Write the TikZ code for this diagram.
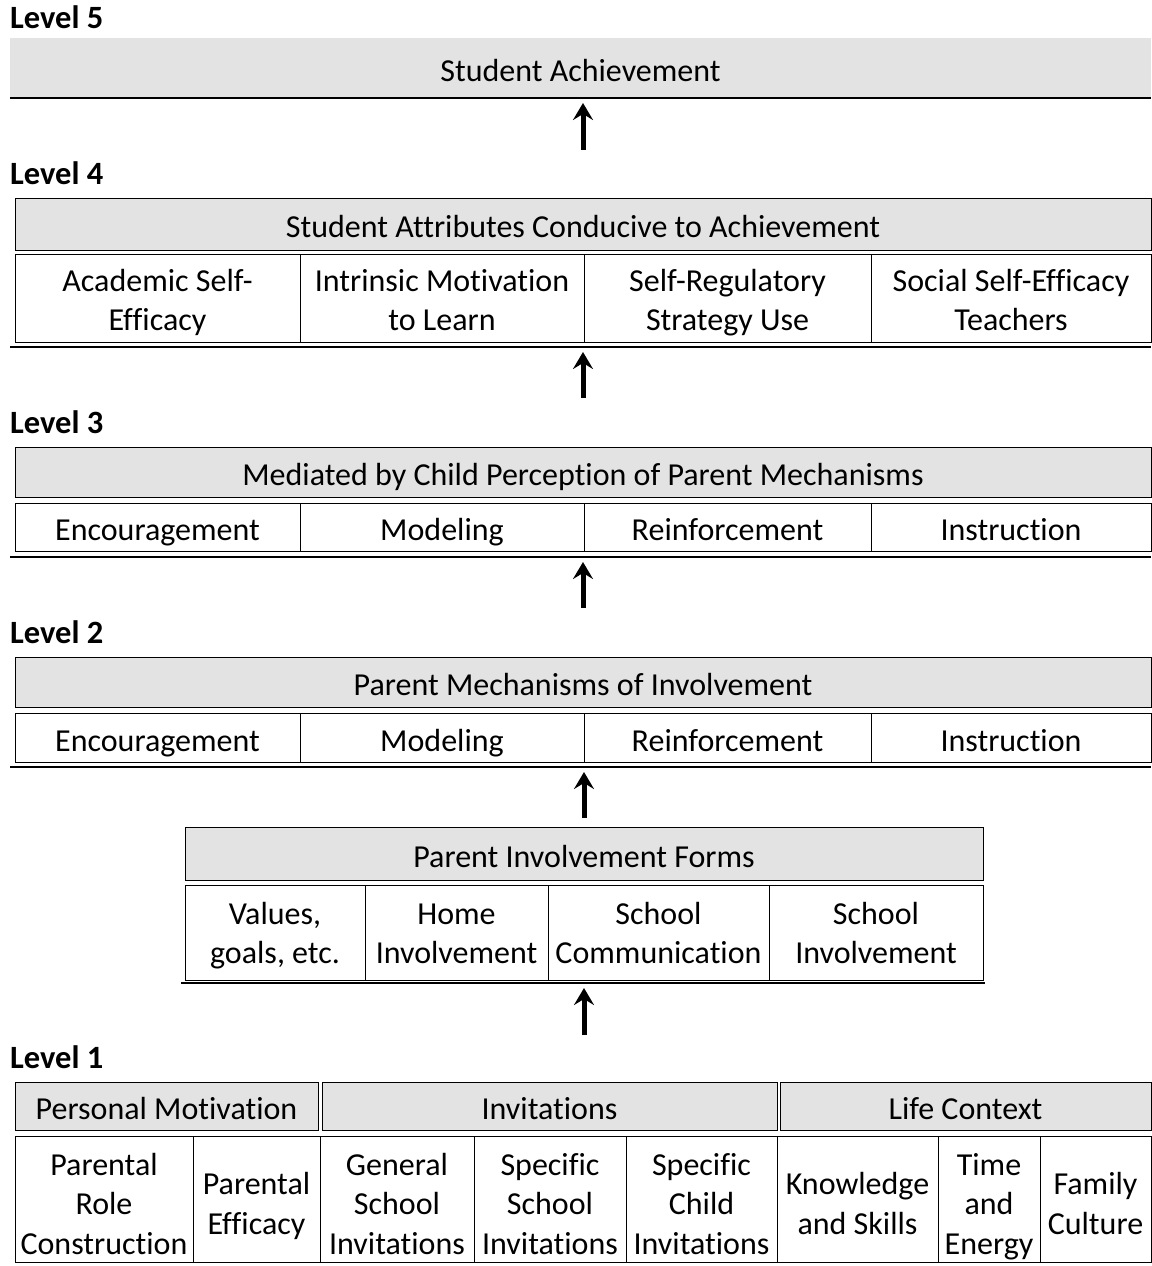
\documentclass[tikz,border=0pt]{standalone}
\usepackage{fontspec}
\setmainfont{Carlito}[Ligatures=CommonOff]
\usetikzlibrary{positioning,arrows.meta}
% invisible prop that keeps the lines of a box at the same place
\newcommand{\cellprop}{\rule[-7pt]{0pt}{41pt}}

\begin{document}
\begin{tikzpicture}[x=1pt, y=1pt,
			% shaded bar that carries the title of a level
			headbar/.style={rectangle, draw=black, line width=1pt, fill=black!11, inner sep=0pt, outer sep=0pt,
				font=\fontsize{32}{39.5}\selectfont, execute at begin node=\cellprop},
			% white box below a bar
			cellbox/.style={rectangle, draw=black, line width=1pt, align=center, inner sep=0pt, outer sep=0pt,
				font=\fontsize{32}{39.5}\selectfont, execute at begin node=\cellprop, execute at end node=\cellprop},
			% box with several lines: a taller prop pushes the text down
			stackbox/.style={execute at begin node=\rule[-7pt]{0pt}{#1}},
			% caption "Level n"
			levelname/.style={anchor=base west, inner sep=0pt, font=\fontsize{32.5}{36}\selectfont\bfseries},
			% heavy line closing a level
			heavyrule/.style={line width=2.5pt},
			% thick arrow between the levels
			uparrow/.style={line width=5pt, -{Stealth[length=17pt, width=20pt, inset=6pt]}}
		]
		\useasboundingbox (0,0) rectangle (1151,-1266);

		%Level 5
		\node[levelname]                      (lvlfive)    at (10,-28)                       {Level 5};
		\node[headbar, draw=none, minimum width=1141pt, minimum height=60pt, anchor=north west]
		                                      (achieve)    at (10,-38)                       {Student Achievement};
		\draw[heavyrule] (achieve.south west) -- (achieve.south east);

		%Level 4
		\node[levelname]                      (lvlfour)    at (10,-184)                      {Level 4};
		\node[headbar, minimum width=1136pt, minimum height=52pt, anchor=north west]
		                                      (attrib)     at (15,-198)                      {Student Attributes Conducive to Achievement};
		\node[cellbox, stackbox=79pt, minimum width=285pt, minimum height=88pt, anchor=north west]
		                                      (academic)   at (15,-254)                      {Academic Self-\\Efficacy};
		\node[cellbox, stackbox=79pt, minimum width=284pt, minimum height=88pt] (intrinsic)  [right=0pt of academic]   {Intrinsic Motivation\\to Learn};
		\node[cellbox, stackbox=79pt, minimum width=287pt, minimum height=88pt] (selfreg)    [right=0pt of intrinsic]  {Self-Regulatory\\Strategy Use};
		\node[cellbox, stackbox=79pt, minimum width=280pt, minimum height=88pt] (social)     [right=0pt of selfreg]    {Social Self-Efficacy\\Teachers};
		\draw[heavyrule] ([shift={(-5pt,-5pt)}]academic.south west) -- ([yshift=-5pt]social.south east);

		%Level 3
		\node[levelname]                      (lvlthree)   at (10,-433)                      {Level 3};
		\node[headbar, minimum width=1136pt, minimum height=50pt, anchor=north west]
		                                      (mediated)   at (15,-447)                      {Mediated by Child Perception of Parent Mechanisms};
		\node[cellbox, minimum width=285pt, minimum height=48pt, anchor=north west]
		                                      (encourthree) at (15,-503)                     {Encouragement};
		\node[cellbox, minimum width=284pt, minimum height=48pt] (modelthree) [right=0pt of encourthree] {Modeling};
		\node[cellbox, minimum width=287pt, minimum height=48pt] (reinfthree) [right=0pt of modelthree]  {Reinforcement};
		\node[cellbox, minimum width=280pt, minimum height=48pt] (instrthree) [right=0pt of reinfthree]  {Instruction};
		\draw[heavyrule] ([shift={(-5pt,-6pt)}]encourthree.south west) -- ([yshift=-6pt]instrthree.south east);

		%Level 2
		\node[levelname]                      (lvltwo)     at (10,-643)                      {Level 2};
		\node[headbar, minimum width=1136pt, minimum height=50pt, anchor=north west]
		                                      (mechan)     at (15,-657)                      {Parent Mechanisms of Involvement};
		\node[cellbox, minimum width=285pt, minimum height=49pt, anchor=north west]
		                                      (encourtwo)  at (15,-713)                      {Encouragement};
		\node[cellbox, minimum width=284pt, minimum height=49pt] (modeltwo)   [right=0pt of encourtwo]   {Modeling};
		\node[cellbox, minimum width=287pt, minimum height=49pt] (reinftwo)   [right=0pt of modeltwo]    {Reinforcement};
		\node[cellbox, minimum width=280pt, minimum height=49pt] (instrtwo)   [right=0pt of reinftwo]    {Instruction};
		\draw[heavyrule] ([shift={(-5pt,-5pt)}]encourtwo.south west) -- ([yshift=-5pt]instrtwo.south east);

		%Forms of involvement
		\node[headbar, minimum width=798pt, minimum height=53pt, anchor=north west]
		                                      (forms)      at (185,-827)                     {Parent Involvement Forms};
		\node[cellbox, stackbox=76pt, minimum width=180pt, minimum height=95pt, anchor=north west]
		                                      (values)     at (185,-885)                     {Values,\\goals, etc.};
		\node[cellbox, stackbox=76pt, minimum width=183pt, minimum height=95pt] (home)       [right=0pt of values]      {Home\\Involvement};
		\node[cellbox, stackbox=76pt, minimum width=221pt, minimum height=95pt] (schoolcomm) [right=0pt of home]        {School\\Communication};
		\node[cellbox, stackbox=76pt, minimum width=214pt, minimum height=95pt] (schoolinv)  [right=0pt of schoolcomm]  {School\\Involvement};
		\draw[heavyrule] ([shift={(-4pt,-3pt)}]values.south west) -- ([shift={(2pt,-3pt)}]schoolinv.south east);

		%Level 1
		\node[levelname]                      (lvlone)     at (10,-1068)                     {Level 1};
		\node[headbar, minimum width=303pt, minimum height=48pt, anchor=north west]
		                                      (personal)   at (15,-1082)                     {Personal Motivation};
		\node[headbar, minimum width=455pt, minimum height=48pt, anchor=north west]
		                                      (invit)      at (322,-1082)                    {Invitations};
		\node[headbar, minimum width=371pt, minimum height=48pt, anchor=north west]
		                                      (life)       at (780,-1082)                    {Life Context};
		\node[cellbox, stackbox=124pt, minimum width=178pt, minimum height=126pt, anchor=north west]
		                                      (rolecon)    at (15,-1136)                     {Parental\\Role\\Construction};
		\node[cellbox, stackbox=84pt,  minimum width=127pt, minimum height=126pt] (efficacy)   [right=0pt of rolecon]     {Parental\\Efficacy};
		\node[cellbox, stackbox=124pt, minimum width=154pt, minimum height=126pt] (general)    [right=0pt of efficacy]    {General\\School\\Invitations};
		\node[cellbox, stackbox=124pt, minimum width=152pt, minimum height=126pt] (specschool) [right=0pt of general]     {Specific\\School\\Invitations};
		\node[cellbox, stackbox=124pt, minimum width=151pt, minimum height=126pt] (specchild)  [right=0pt of specschool]  {Specific\\Child\\Invitations};
		\node[cellbox, stackbox=84pt,  minimum width=161pt, minimum height=126pt] (knowledge)  [right=0pt of specchild]   {Knowledge\\and Skills};
		\node[cellbox, stackbox=124pt, minimum width=102pt, minimum height=126pt] (timeenergy) [right=0pt of knowledge]   {Time\\and\\Energy};
		\node[cellbox, stackbox=84pt,  minimum width=111pt, minimum height=126pt] (culture)    [right=0pt of timeenergy]  {Family\\Culture};

		%Arrows
		\draw[uparrow, shorten <=48pt, shorten >=5pt]  (attrib.north)               --  (attrib.north |- achieve.south);
		\draw[uparrow, shorten <=49pt, shorten >=10pt] (mediated.north)             --  (mediated.north |- academic.south);
		\draw[uparrow, shorten <=49pt, shorten >=11pt] (mechan.north)               --  (mechan.north |- modelthree.south);
		\draw[uparrow, shorten <=9pt,  shorten >=10pt] (forms.north)                --  (forms.north |- modeltwo.south);
		\draw[uparrow, shorten <=47pt, shorten >=8pt]  (forms.north |- invit.north) --  (forms.north |- values.south);
	\end{tikzpicture}
\end{document}
